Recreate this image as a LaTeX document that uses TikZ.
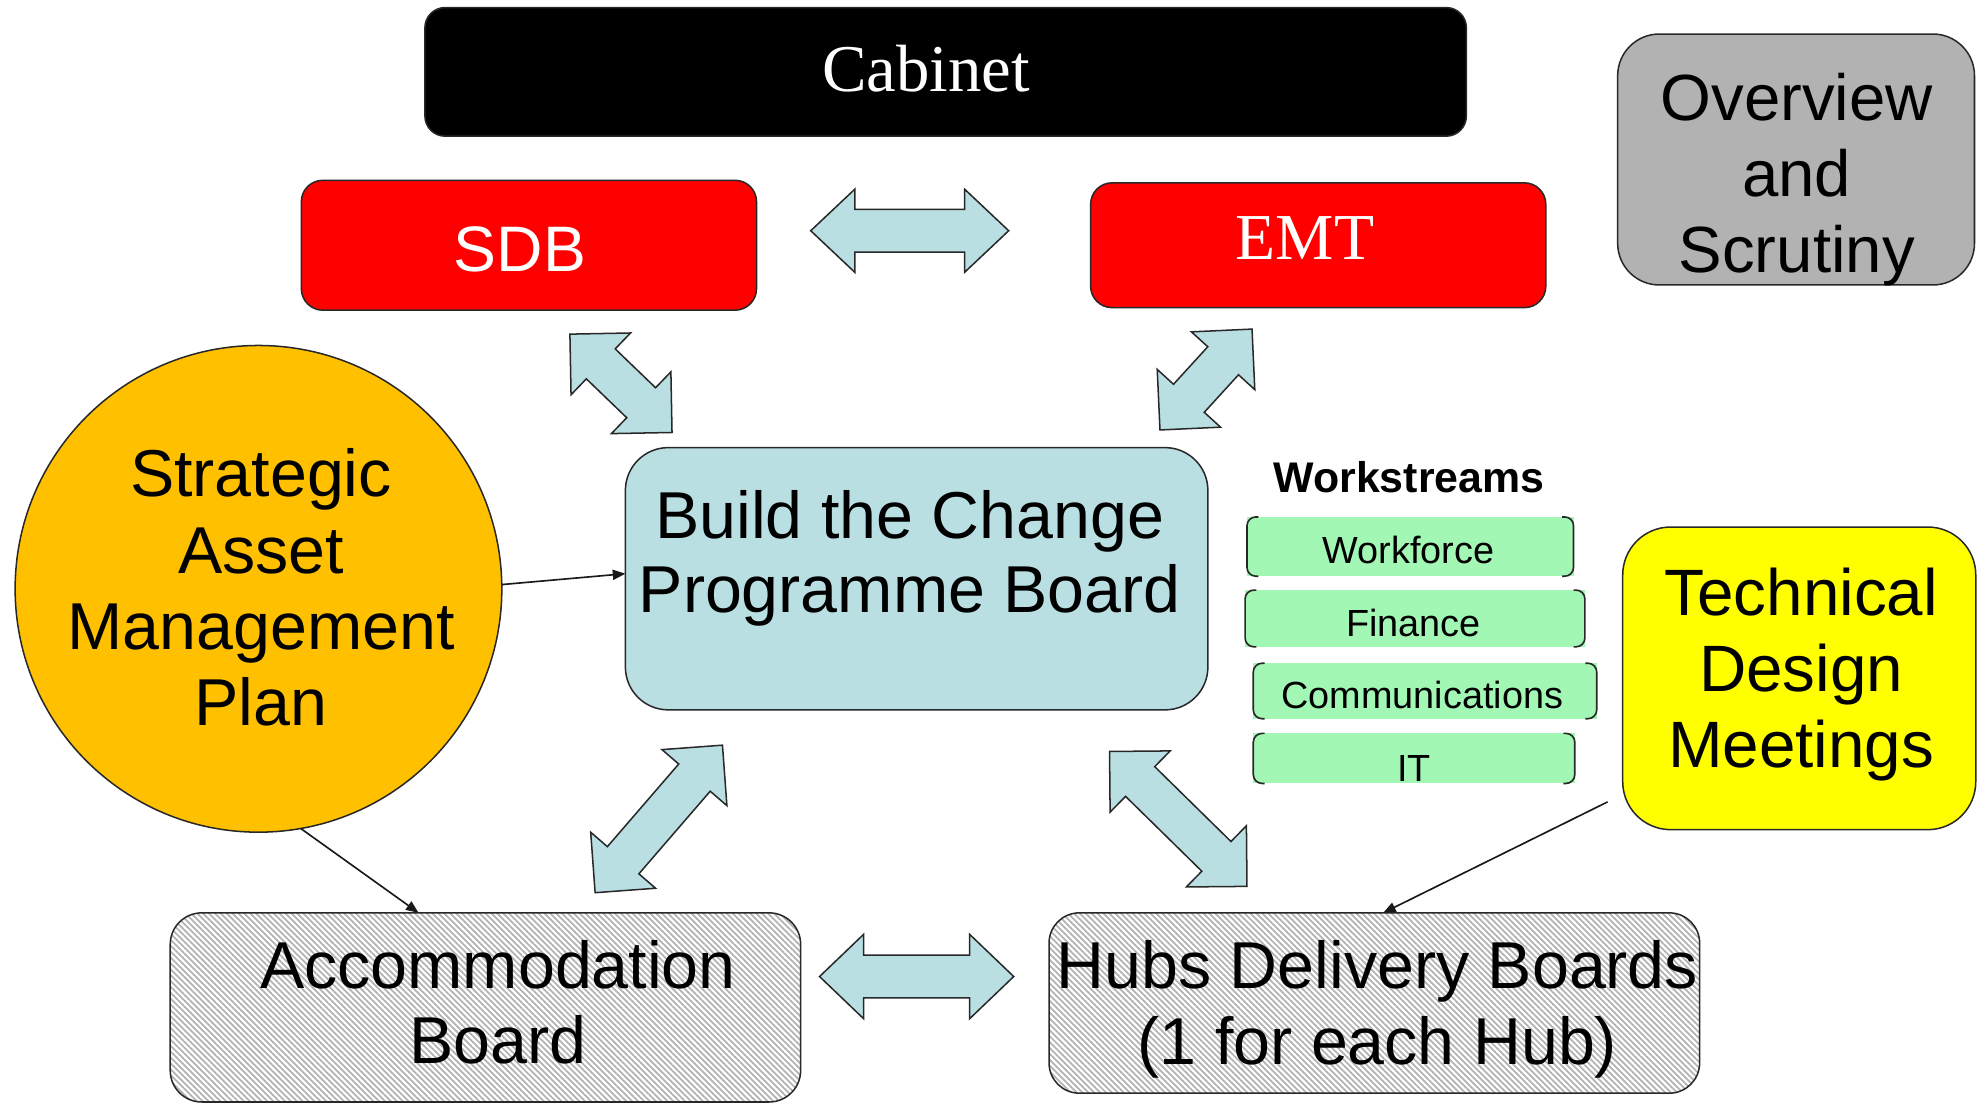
\documentclass[tikz,border=0pt]{standalone}
\usepackage{fontspec}
\setmainfont{Liberation Sans}
\newfontfamily\timesfont{Liberation Serif}
\usetikzlibrary{calc,arrows.meta,patterns.meta}

\definecolor{cabred}{RGB}{255,0,0}
\definecolor{panelgray}{RGB}{178,178,178}
\definecolor{samorange}{RGB}{255,192,0}
\definecolor{boardblue}{RGB}{185,223,227}
\definecolor{wsgreen}{RGB}{163,247,181}
\definecolor{tdyellow}{RGB}{255,255,0}
\definecolor{edge}{RGB}{40,40,40}

\tikzset{
  box/.style={draw=edge, line width=1.2pt, inner sep=0pt, outer sep=0pt},
  bigtext/.style={font=\fontsize{52.6}{60.5}\selectfont, align=center, inner sep=0pt},
  hatched/.style={pattern={Lines[angle=-45,distance=3.3pt,line width=1.4pt]}, pattern color=gray!60},
  link/.style={draw=black!90, line width=1.3pt, -{Triangle[length=10pt,width=8pt]}},
  blockar/.style={fill=boardblue, draw=edge, line width=1.2pt, line join=miter},
  wsbox/.style={fill=wsgreen, inner sep=0pt, outer sep=0pt},
  wslabel/.style={font=\fontsize{30}{36}\selectfont, anchor=base, inner sep=0pt},
  wsedge/.style={draw=edge, line width=1.3pt, rounded corners=7pt},
}

% two-headed block arrow: ends #1,#2; head length #3, head half-width #4, shaft half-width #5
\newcommand\twowayarrow[5]{%
  \coordinate (tw-h1) at ($(#1)!#3!(#2)$);
  \coordinate (tw-h2) at ($(#2)!#3!(#1)$);
  \draw[blockar] (#1)
    -- ($(tw-h1)!#4!90:(#2)$) -- ($(tw-h1)!#5!90:(#2)$)
    -- ($(tw-h2)!#5!-90:(#1)$) -- ($(tw-h2)!#4!-90:(#1)$)
    -- (#2)
    -- ($(tw-h2)!#4!90:(#1)$) -- ($(tw-h2)!#5!90:(#1)$)
    -- ($(tw-h1)!#5!-90:(#2)$) -- ($(tw-h1)!#4!-90:(#2)$)
    -- cycle;
}

\begin{document}
\begin{tikzpicture}[x=1pt,y=-1pt]
\useasboundingbox (0,0) rectangle (1568,876);

% ---- top tier
\node[box, fill=black, rounded corners=16pt, minimum width=826pt, minimum height=102pt] (cabinet) at (750,57) {};
\node[anchor=base, inner sep=0pt, text=white, font=\timesfont\fontsize{53}{60}\selectfont] (cabinet-t) at (734.5,72.5) {Cabinet};

\node[box, fill=cabred, rounded corners=17pt, minimum width=361pt, minimum height=103pt] (sdb) at (419.5,194.5) {};
\node[anchor=base, inner sep=0pt, text=white, font=\fontsize{51}{60}\selectfont] (sdb-t) at (412.5,215.3) {SDB};

\node[box, fill=cabred, rounded corners=17pt, minimum width=361pt, minimum height=99pt] (emt) at (1045.5,194.5) {};
\node[anchor=base, inner sep=0pt, text=white, font=\timesfont\fontsize{52}{60}\selectfont] (emt-t) at (1035,206.2) {EMT};

\node[box, fill=panelgray, rounded corners=33pt, minimum width=283pt, minimum height=199pt] (overview) at (1424.5,126.5) {};
\node[bigtext, font=\fontsize{51.8}{60}\selectfont] (overview-t) at (1425,142.5) {Overview\\and\\Scrutiny};

% ---- middle tier
\node[box, circle, fill=samorange, minimum size=386pt] (samp) at (205,467) {};
\node[bigtext] (samp-t) at (207,466) {Strategic\\Asset\\Management\\Plan};

\node[box, fill=boardblue, rounded corners=34pt, minimum width=462pt, minimum height=208pt] (btc) at (727,459) {};
\node[bigtext, font=\fontsize{52.6}{59}\selectfont] (btc-t) at (721.5,443) {Build the Change\\Programme Board};

\node[anchor=base, inner sep=0pt, font=\bfseries\fontsize{34}{40}\selectfont] (ws-head) at (1117.5,391) {Workstreams};

\node[wsbox, minimum width=259pt, minimum height=47pt] (ws1) at (1118.5,433.5) {};
\node[wsbox, minimum width=269.5pt, minimum height=45pt] (ws2) at (1122.25,490.5) {};
\node[wsbox, minimum width=272.4pt, minimum height=44pt] (ws3) at (1130.2,548) {};
\node[wsbox, minimum width=255pt, minimum height=39.7pt] (ws4) at (1121.5,601.5) {};
\foreach \w in {ws1,ws2,ws3,ws4}{
  \draw[wsedge] ([xshift=9pt]\w.north west) -- (\w.north west) -- (\w.south west) -- ([xshift=9pt]\w.south west);
  \draw[wsedge] ([xshift=-9pt]\w.north east) -- (\w.north east) -- (\w.south east) -- ([xshift=-9pt]\w.south east);
}
\node[wslabel] (ws1-t) at (1117,446.8) {Workforce};
\node[wslabel] (ws2-t) at (1121,504.5) {Finance};
\node[wslabel] (ws3-t) at (1128,561.8) {Communications};
\node[wslabel] (ws4-t) at (1121.5,620) {IT};

\node[box, fill=tdyellow, rounded corners=38pt, minimum width=280pt, minimum height=240pt] (tdm) at (1427,538) {};
\node[bigtext, font=\fontsize{52}{60.5}\selectfont] (tdm-t) at (1428.5,535) {Technical\\Design\\Meetings};

% ---- bottom tier
\node[box, hatched, rounded corners=25pt, minimum width=500pt, minimum height=150pt] (acc) at (385,799) {};
\node[bigtext, font=\fontsize{52.6}{60}\selectfont] (acc-t) at (395,795) {Accommodation\\Board};

\node[box, hatched, rounded corners=24pt, minimum width=516pt, minimum height=143pt] (hubs) at (1090,795.5) {};
\node[bigtext, font=\fontsize{52.6}{60}\selectfont] (hubs-t) at (1092.5,800.4) {Hubs Delivery Boards\\(1 for each Hub)};

% ---- two-way block arrows between the boards
\coordinate (sdb-emt-a) at (643,183);   \coordinate (sdb-emt-b) at (800,183);
\coordinate (sdb-btc-a) at (452,265);   \coordinate (sdb-btc-b) at (533,343);
\coordinate (emt-btc-a) at (993,261);   \coordinate (emt-btc-b) at (920,341);
\coordinate (acc-btc-a) at (472,708);   \coordinate (acc-btc-b) at (573,591);
\coordinate (hub-btc-a) at (880,596);   \coordinate (hub-btc-b) at (989,703);
\coordinate (acc-hub-a) at (650,774.5); \coordinate (acc-hub-b) at (804,774.5);

\twowayarrow{sdb-emt-a}{sdb-emt-b}{35pt}{33pt}{17pt}
\twowayarrow{sdb-btc-a}{sdb-btc-b}{34pt}{34pt}{16.5pt}
\twowayarrow{emt-btc-a}{emt-btc-b}{34pt}{34pt}{16.5pt}
\twowayarrow{acc-btc-a}{acc-btc-b}{34pt}{34pt}{16.5pt}
\twowayarrow{hub-btc-a}{hub-btc-b}{34pt}{34pt}{16.5pt}
\twowayarrow{acc-hub-a}{acc-hub-b}{35pt}{33.5pt}{17pt}

% ---- thin feed arrows
\draw[link] (samp.1) -- ([yshift=4pt]btc.west);
\draw[link] (samp.-80) -- ([xshift=-53pt]acc.north);
\coordinate (tdm-foot) at (1275,636);
\draw[link] (tdm-foot) -- ([xshift=7pt]hubs.north);
\end{tikzpicture}
\end{document}
